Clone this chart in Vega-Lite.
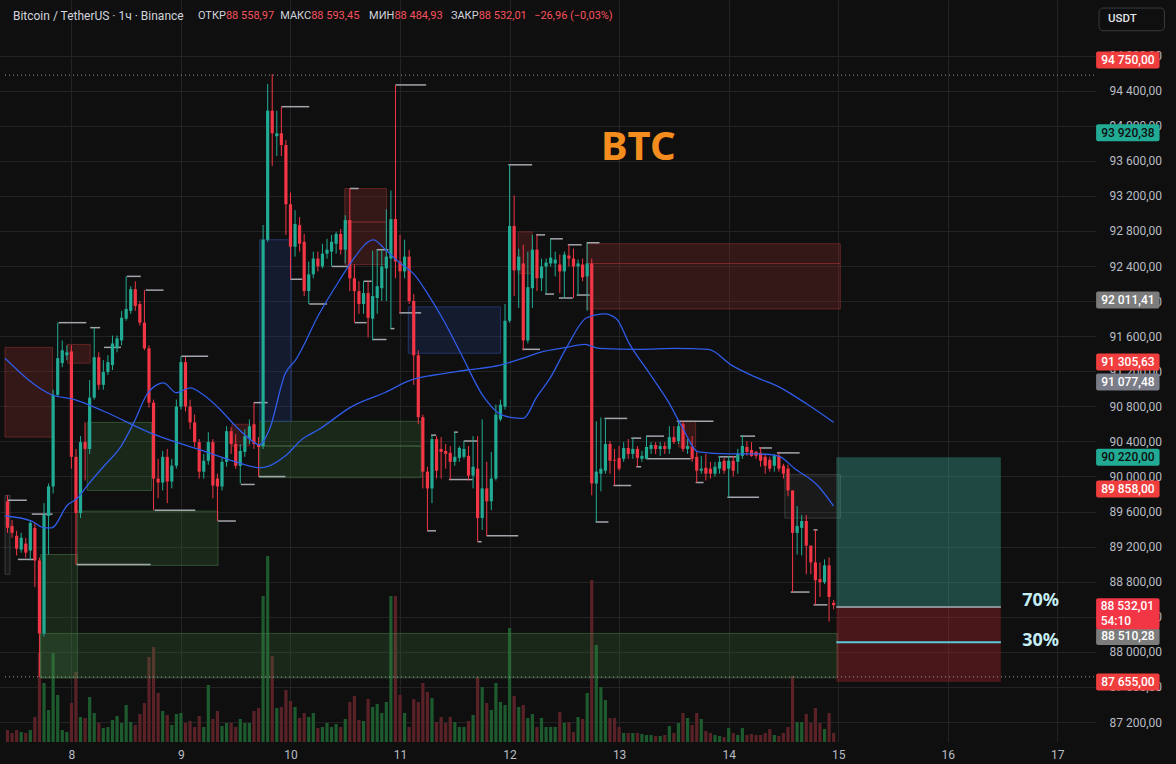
{
"$schema":"https://vega.github.io/schema/vega-lite/v6.json",
"width":1096,"height":742,
"autosize":"none",
"padding":{"left":0,"top":0,"right":80,"bottom":22},
"background":"#0f0f0f",
"config":{"view":{"stroke":null},"font":"Roboto","axis":{"domain":false,"ticks":false,"gridColor":"#232323","gridWidth":1,"labelColor":"#b8bcc4","labelFontSize":12,"labelFont":"Roboto","labelOverlap":false}},
"datasets":{
"candles":[
{"t":10,"o":89717,"hi":89785,"lo":89357,"c":89414,"v":120},
{"t":11,"o":89436,"hi":89504,"lo":89301,"c":89357,"v":90},
{"t":12,"o":89324,"hi":89380,"lo":89099,"c":89177,"v":120},
{"t":13,"o":89166,"hi":89357,"lo":89132,"c":89301,"v":100},
{"t":14,"o":89234,"hi":89301,"lo":89076,"c":89132,"v":90},
{"t":15,"o":89155,"hi":89504,"lo":89042,"c":89470,"v":120},
{"t":16,"o":89414,"hi":89470,"lo":88739,"c":89042,"v":250},
{"t":17,"o":89042,"hi":89076,"lo":87715,"c":88210,"v":890},
{"t":18,"o":88210,"hi":89695,"lo":88176,"c":89560,"v":590},
{"t":19,"o":89549,"hi":89920,"lo":89110,"c":89886,"v":320},
{"t":20,"o":89886,"hi":90989,"lo":89807,"c":90932,"v":890},
{"t":21,"o":90932,"hi":91754,"lo":90910,"c":91349,"v":470},
{"t":22,"o":91292,"hi":91551,"lo":91247,"c":91439,"v":120},
{"t":23,"o":91382,"hi":91495,"lo":91326,"c":91416,"v":100},
{"t":24,"o":91427,"hi":91495,"lo":90089,"c":90224,"v":390},
{"t":25,"o":90224,"hi":90314,"lo":88997,"c":89582,"v":700},
{"t":26,"o":89582,"hi":90460,"lo":89526,"c":90392,"v":250},
{"t":27,"o":90392,"hi":90617,"lo":89954,"c":90314,"v":240},
{"t":28,"o":90314,"hi":91101,"lo":90257,"c":90899,"v":450},
{"t":29,"o":90899,"hi":91697,"lo":90876,"c":91360,"v":290},
{"t":30,"o":91360,"hi":91416,"lo":90989,"c":91045,"v":190},
{"t":31,"o":91045,"hi":91326,"lo":90989,"c":91191,"v":140},
{"t":32,"o":91191,"hi":91382,"lo":91157,"c":91304,"v":150},
{"t":33,"o":91270,"hi":91607,"lo":91214,"c":91517,"v":220},
{"t":34,"o":91461,"hi":91607,"lo":91416,"c":91574,"v":260},
{"t":35,"o":91551,"hi":91889,"lo":91495,"c":91810,"v":190},
{"t":36,"o":91799,"hi":92282,"lo":91776,"c":91911,"v":370},
{"t":37,"o":91889,"hi":92170,"lo":91855,"c":92136,"v":200},
{"t":38,"o":92136,"hi":92226,"lo":91889,"c":91945,"v":170},
{"t":39,"o":91967,"hi":92001,"lo":91720,"c":91754,"v":280},
{"t":40,"o":91754,"hi":92125,"lo":91439,"c":91461,"v":390},
{"t":41,"o":91461,"hi":91495,"lo":90786,"c":90842,"v":850},
{"t":42,"o":90842,"hi":90876,"lo":89616,"c":89976,"v":950},
{"t":43,"o":89976,"hi":90201,"lo":89751,"c":89931,"v":490},
{"t":44,"o":89931,"hi":90291,"lo":89841,"c":90224,"v":310},
{"t":45,"o":90224,"hi":90314,"lo":89695,"c":89943,"v":270},
{"t":46,"o":89943,"hi":90201,"lo":89864,"c":90122,"v":170},
{"t":47,"o":90122,"hi":90876,"lo":90089,"c":90797,"v":280},
{"t":48,"o":90797,"hi":91371,"lo":90764,"c":91304,"v":290},
{"t":49,"o":91304,"hi":91360,"lo":90741,"c":90797,"v":190},
{"t":50,"o":90797,"hi":90876,"lo":90539,"c":90617,"v":210},
{"t":51,"o":90617,"hi":90707,"lo":90336,"c":90392,"v":150},
{"t":52,"o":90392,"hi":90426,"lo":89976,"c":90055,"v":260},
{"t":53,"o":90055,"hi":90257,"lo":89976,"c":90179,"v":150},
{"t":54,"o":90179,"hi":90505,"lo":90134,"c":90392,"v":570},
{"t":55,"o":90392,"hi":90426,"lo":89751,"c":89897,"v":230},
{"t":56,"o":89976,"hi":90032,"lo":89492,"c":89886,"v":310},
{"t":57,"o":89886,"hi":90224,"lo":89841,"c":90167,"v":160},
{"t":58,"o":90167,"hi":90573,"lo":90111,"c":90516,"v":190},
{"t":59,"o":90516,"hi":90561,"lo":90257,"c":90370,"v":190},
{"t":60,"o":90370,"hi":90482,"lo":90089,"c":90122,"v":150},
{"t":61,"o":90122,"hi":90370,"lo":89920,"c":90291,"v":230},
{"t":62,"o":90280,"hi":90539,"lo":90224,"c":90460,"v":190},
{"t":63,"o":90426,"hi":90651,"lo":90370,"c":90573,"v":190},
{"t":64,"o":90595,"hi":90842,"lo":90314,"c":90370,"v":310},
{"t":65,"o":90370,"hi":90449,"lo":89999,"c":90336,"v":340},
{"t":66,"o":90347,"hi":92867,"lo":90314,"c":92699,"v":1460},
{"t":67,"o":92699,"hi":94476,"lo":92676,"c":94172,"v":1860},
{"t":68,"o":94172,"hi":94589,"lo":93542,"c":93914,"v":860},
{"t":69,"o":93880,"hi":94172,"lo":93655,"c":93914,"v":340},
{"t":70,"o":93914,"hi":94217,"lo":93655,"c":93779,"v":350},
{"t":71,"o":93779,"hi":93835,"lo":92755,"c":93104,"v":520},
{"t":72,"o":93104,"hi":93239,"lo":92249,"c":92620,"v":410},
{"t":73,"o":92620,"hi":93036,"lo":92507,"c":92879,"v":350},
{"t":74,"o":92867,"hi":92957,"lo":92564,"c":92654,"v":240},
{"t":75,"o":92676,"hi":92766,"lo":92057,"c":92114,"v":290},
{"t":76,"o":92114,"hi":92451,"lo":91967,"c":92305,"v":250},
{"t":77,"o":92305,"hi":92564,"lo":92260,"c":92485,"v":290},
{"t":78,"o":92485,"hi":92564,"lo":92339,"c":92395,"v":140},
{"t":79,"o":92395,"hi":92654,"lo":92372,"c":92541,"v":150},
{"t":80,"o":92541,"hi":92710,"lo":92485,"c":92586,"v":190},
{"t":81,"o":92564,"hi":92755,"lo":92395,"c":92676,"v":150},
{"t":82,"o":92654,"hi":92789,"lo":92541,"c":92766,"v":180},
{"t":83,"o":92766,"hi":92822,"lo":92530,"c":92586,"v":150},
{"t":84,"o":92586,"hi":92980,"lo":92429,"c":92924,"v":230},
{"t":85,"o":92924,"hi":93284,"lo":92114,"c":92260,"v":400},
{"t":86,"o":92260,"hi":92417,"lo":91754,"c":92114,"v":460},
{"t":87,"o":92114,"hi":92226,"lo":91855,"c":91967,"v":220},
{"t":88,"o":91967,"hi":92226,"lo":91855,"c":92091,"v":210},
{"t":89,"o":92091,"hi":92226,"lo":91585,"c":91810,"v":430},
{"t":90,"o":91799,"hi":92575,"lo":91551,"c":92057,"v":350},
{"t":91,"o":92035,"hi":92586,"lo":91855,"c":92170,"v":380},
{"t":92,"o":92147,"hi":92586,"lo":92001,"c":92395,"v":290},
{"t":93,"o":92372,"hi":93047,"lo":92001,"c":92507,"v":400},
{"t":94,"o":92485,"hi":93261,"lo":91686,"c":92935,"v":1460},
{"t":95,"o":92935,"hi":94465,"lo":92260,"c":92451,"v":1460},
{"t":96,"o":92451,"hi":92755,"lo":91866,"c":92339,"v":470},
{"t":97,"o":92339,"hi":92699,"lo":92260,"c":92507,"v":290},
{"t":98,"o":92507,"hi":92586,"lo":91967,"c":92001,"v":150},
{"t":99,"o":92001,"hi":92080,"lo":91045,"c":91382,"v":430},
{"t":100,"o":91382,"hi":91439,"lo":90595,"c":90676,"v":400},
{"t":101,"o":90676,"hi":90707,"lo":89864,"c":90055,"v":590},
{"t":102,"o":90055,"hi":90111,"lo":89380,"c":89864,"v":500},
{"t":103,"o":89864,"hi":90471,"lo":89695,"c":90426,"v":440},
{"t":104,"o":90426,"hi":90460,"lo":89976,"c":90066,"v":200},
{"t":105,"o":90314,"hi":90449,"lo":89976,"c":90280,"v":250},
{"t":106,"o":90291,"hi":90370,"lo":90089,"c":90257,"v":190},
{"t":107,"o":90269,"hi":90347,"lo":89965,"c":90167,"v":250},
{"t":108,"o":90167,"hi":90505,"lo":90122,"c":90224,"v":200},
{"t":109,"o":90212,"hi":90347,"lo":90167,"c":90325,"v":150},
{"t":110,"o":90224,"hi":90404,"lo":90201,"c":90314,"v":150},
{"t":111,"o":90235,"hi":90347,"lo":89954,"c":90010,"v":210},
{"t":112,"o":90010,"hi":90460,"lo":89864,"c":90111,"v":270},
{"t":113,"o":90089,"hi":90460,"lo":89256,"c":89526,"v":650},
{"t":114,"o":89526,"hi":90651,"lo":89391,"c":89864,"v":550},
{"t":115,"o":89864,"hi":90167,"lo":89324,"c":89717,"v":390},
{"t":116,"o":89717,"hi":90280,"lo":89616,"c":89976,"v":320},
{"t":117,"o":89976,"hi":90820,"lo":89954,"c":90707,"v":590},
{"t":118,"o":90651,"hi":90876,"lo":90629,"c":90820,"v":400},
{"t":119,"o":90797,"hi":91967,"lo":90764,"c":91776,"v":370},
{"t":120,"o":91776,"hi":93554,"lo":91754,"c":92856,"v":1140},
{"t":121,"o":92856,"hi":93205,"lo":92057,"c":92350,"v":460},
{"t":122,"o":92350,"hi":92597,"lo":91922,"c":92507,"v":350},
{"t":123,"o":92429,"hi":92642,"lo":91439,"c":91551,"v":370},
{"t":124,"o":91551,"hi":92564,"lo":91517,"c":92159,"v":240},
{"t":125,"o":92147,"hi":92755,"lo":91922,"c":92586,"v":280},
{"t":126,"o":92586,"hi":92755,"lo":92114,"c":92260,"v":150},
{"t":127,"o":92260,"hi":92485,"lo":92114,"c":92395,"v":240},
{"t":128,"o":92395,"hi":92485,"lo":92080,"c":92440,"v":150},
{"t":129,"o":92429,"hi":92710,"lo":92395,"c":92496,"v":150},
{"t":130,"o":92429,"hi":92564,"lo":92282,"c":92474,"v":150},
{"t":131,"o":92417,"hi":92530,"lo":92091,"c":92339,"v":300},
{"t":132,"o":92339,"hi":92564,"lo":92035,"c":92530,"v":190},
{"t":133,"o":92519,"hi":92642,"lo":92395,"c":92485,"v":200},
{"t":134,"o":92485,"hi":92597,"lo":92035,"c":92395,"v":100},
{"t":135,"o":92395,"hi":92474,"lo":92069,"c":92429,"v":250},
{"t":136,"o":92417,"hi":92485,"lo":92226,"c":92271,"v":230},
{"t":137,"o":92282,"hi":92665,"lo":91889,"c":92429,"v":490},
{"t":138,"o":92429,"hi":92485,"lo":89785,"c":89920,"v":1620},
{"t":139,"o":89920,"hi":90629,"lo":89481,"c":90055,"v":970},
{"t":140,"o":90032,"hi":90674,"lo":89830,"c":90089,"v":550},
{"t":141,"o":90066,"hi":90662,"lo":90032,"c":90370,"v":420},
{"t":142,"o":90370,"hi":90404,"lo":90032,"c":90179,"v":240},
{"t":143,"o":90190,"hi":90314,"lo":89897,"c":90179,"v":240},
{"t":144,"o":90212,"hi":90347,"lo":90066,"c":90089,"v":150},
{"t":145,"o":90201,"hi":90392,"lo":90167,"c":90325,"v":90},
{"t":146,"o":90325,"hi":90426,"lo":90201,"c":90257,"v":90},
{"t":147,"o":90257,"hi":90437,"lo":90201,"c":90314,"v":90},
{"t":148,"o":90314,"hi":90347,"lo":90111,"c":90212,"v":90},
{"t":149,"o":90201,"hi":90291,"lo":90167,"c":90235,"v":80},
{"t":150,"o":90201,"hi":90460,"lo":90201,"c":90336,"v":70},
{"t":151,"o":90314,"hi":90392,"lo":90257,"c":90359,"v":70},
{"t":152,"o":90359,"hi":90392,"lo":90257,"c":90314,"v":60},
{"t":153,"o":90314,"hi":90392,"lo":90235,"c":90347,"v":60},
{"t":154,"o":90347,"hi":90392,"lo":90257,"c":90314,"v":70},
{"t":155,"o":90314,"hi":90573,"lo":90257,"c":90449,"v":160},
{"t":156,"o":90449,"hi":90573,"lo":90370,"c":90392,"v":90},
{"t":157,"o":90404,"hi":90629,"lo":90370,"c":90573,"v":190},
{"t":158,"o":90595,"hi":90629,"lo":90280,"c":90314,"v":290},
{"t":159,"o":90314,"hi":90426,"lo":90257,"c":90347,"v":240},
{"t":160,"o":90336,"hi":90460,"lo":90167,"c":90201,"v":170},
{"t":161,"o":90224,"hi":90280,"lo":89931,"c":90066,"v":290},
{"t":162,"o":90066,"hi":90235,"lo":90032,"c":90089,"v":230},
{"t":163,"o":90100,"hi":90257,"lo":89954,"c":90032,"v":110},
{"t":164,"o":90089,"hi":90167,"lo":89976,"c":90032,"v":90},
{"t":165,"o":90032,"hi":90167,"lo":89999,"c":90111,"v":70},
{"t":166,"o":90089,"hi":90235,"lo":90032,"c":90167,"v":60},
{"t":167,"o":90179,"hi":90212,"lo":90032,"c":90066,"v":50},
{"t":168,"o":90089,"hi":90235,"lo":89762,"c":90179,"v":140},
{"t":169,"o":90179,"hi":90235,"lo":89999,"c":90066,"v":90},
{"t":170,"o":90167,"hi":90314,"lo":90032,"c":90257,"v":70},
{"t":171,"o":90235,"hi":90471,"lo":90201,"c":90347,"v":140},
{"t":172,"o":90336,"hi":90404,"lo":90235,"c":90280,"v":70},
{"t":173,"o":90302,"hi":90392,"lo":90224,"c":90235,"v":80},
{"t":174,"o":90280,"hi":90291,"lo":90201,"c":90235,"v":70},
{"t":175,"o":90269,"hi":90336,"lo":90111,"c":90179,"v":70},
{"t":176,"o":90224,"hi":90257,"lo":90032,"c":90122,"v":90},
{"t":177,"o":90190,"hi":90224,"lo":90055,"c":90089,"v":130},
{"t":178,"o":90122,"hi":90257,"lo":90055,"c":90235,"v":70},
{"t":179,"o":90235,"hi":90269,"lo":90055,"c":90089,"v":60},
{"t":180,"o":90122,"hi":90145,"lo":89976,"c":90032,"v":90},
{"t":181,"o":90089,"hi":90134,"lo":89774,"c":89841,"v":150},
{"t":182,"o":89841,"hi":89841,"lo":88682,"c":89357,"v":660},
{"t":183,"o":89357,"hi":89661,"lo":89110,"c":89436,"v":200},
{"t":184,"o":89414,"hi":89560,"lo":89099,"c":89492,"v":200},
{"t":185,"o":89492,"hi":89560,"lo":88885,"c":89211,"v":280},
{"t":186,"o":89211,"hi":89211,"lo":88885,"c":89020,"v":190},
{"t":187,"o":89020,"hi":89391,"lo":88536,"c":88817,"v":340},
{"t":188,"o":88829,"hi":89020,"lo":88626,"c":88795,"v":190},
{"t":189,"o":88795,"hi":89054,"lo":88772,"c":88986,"v":130},
{"t":190,"o":88986,"hi":89076,"lo":88345,"c":88626,"v":290},
{"t":191,"o":88558.97,"hi":88593.45,"lo":88484.93,"c":88532.01,"v":90}
],
"fast":[{"t":9.46,"p":89549},{"t":15.3,"p":89492},{"t":18.1,"p":89414},{"t":19.7,"p":89414},{"t":23.1,"p":89672},{"t":25.3,"p":89751},{"t":27.5,"p":89897},{"t":31.2,"p":90122},{"t":34.9,"p":90347},{"t":37.7,"p":90617},{"t":40.5,"p":90932},{"t":42.7,"p":91045},{"t":44.2,"p":91067},{"t":47.0,"p":90955},{"t":50.0,"p":91011},{"t":52.9,"p":90932},{"t":56.6,"p":90764},{"t":60.0,"p":90573},{"t":63.1,"p":90426},{"t":65.2,"p":90359},{"t":67.4,"p":90539},{"t":70.9,"p":91180},{"t":73.1,"p":91326},{"t":78.3,"p":91855},{"t":82.6,"p":92226},{"t":85.4,"p":92451},{"t":90.2,"p":92699},{"t":92.6,"p":92597},{"t":95.6,"p":92451},{"t":99.1,"p":92305},{"t":102.1,"p":92080},{"t":105.6,"p":91776},{"t":109.3,"p":91405},{"t":114.3,"p":90910},{"t":117.4,"p":90730},{"t":120.2,"p":90674},{"t":123.0,"p":90662},{"t":126.0,"p":90910},{"t":128.9,"p":91124},{"t":132.5,"p":91472},{"t":136.9,"p":91810},{"t":140.8,"p":91855},{"t":143.4,"p":91799},{"t":146.2,"p":91517},{"t":150.6,"p":91180},{"t":154.9,"p":90842},{"t":157.7,"p":90573},{"t":161.4,"p":90280},{"t":167.9,"p":90257},{"t":174.4,"p":90257},{"t":178.8,"p":90235},{"t":182.5,"p":90089},{"t":187.5,"p":89897},{"t":191.0,"p":89661}],
"slow":[{"t":9.46,"p":91349},{"t":19.7,"p":90932},{"t":24.7,"p":90876},{"t":31.2,"p":90741},{"t":42.0,"p":90482},{"t":52.9,"p":90291},{"t":60.0,"p":90167},{"t":65.2,"p":90100},{"t":67.4,"p":90122},{"t":70.9,"p":90235},{"t":74.6,"p":90426},{"t":78.3,"p":90539},{"t":85.4,"p":90797},{"t":92.6,"p":90955},{"t":98.5,"p":91101},{"t":103.5,"p":91157},{"t":110.8,"p":91214},{"t":118.0,"p":91270},{"t":123.0,"p":91349},{"t":126.7,"p":91416},{"t":132.5,"p":91472},{"t":136.4,"p":91506},{"t":139.7,"p":91461},{"t":148.4,"p":91450},{"t":156.4,"p":91461},{"t":163.6,"p":91450},{"t":168.6,"p":91270},{"t":173.8,"p":91135},{"t":179.4,"p":91011},{"t":185.3,"p":90820},{"t":191.0,"p":90617}],
"zRed":[{"t1":9.455,"t2":19.88,"p1":91472,"p2":90449},{"t1":23.13,"t2":28.12,"p1":91506,"p2":91292},{"t1":83.91,"t2":93.03,"p1":93284,"p2":92901},{"t1":83.91,"t2":93.03,"p1":92901,"p2":92417},{"t1":121.9,"t2":124.94,"p1":92789,"p2":92316},{"t1":136.88,"t2":192.46,"p1":92654,"p2":92429},{"t1":136.88,"t2":192.46,"p1":92429,"p2":91911},{"t1":157.07,"t2":160.76,"p1":90629,"p2":90336},{"t1":59.17,"t2":63.07,"p1":90595,"p2":90347}],
"zGreen":[{"t1":25.3,"t2":56.13,"p1":89605,"p2":88986},{"t1":27.47,"t2":41.58,"p1":90617,"p2":89841},{"t1":17.27,"t2":25.3,"p1":89110,"p2":87704},{"t1":17.27,"t2":191.8,"p1":88210,"p2":87704},{"t1":65.25,"t2":100.63,"p1":90629,"p2":90347},{"t1":65.25,"t2":100.63,"p1":90347,"p2":89987}],
"zBlue":[{"t1":65.25,"t2":72.19,"p1":92699,"p2":90629},{"t1":97.81,"t2":118.0,"p1":91934,"p2":91405}],
"zGray":[{"t1":9.455,"t2":10.54,"p1":89785,"p2":88885},{"t1":180.3,"t2":192.46,"p1":90021,"p2":89526}],
"posGreen":[{"t1":191.59,"t2":227.63,"p1":90220,"p2":88510.28}],
"posRed":[{"t1":191.59,"t2":227.63,"p1":88510.28,"p2":87655}],
"cyanLine":[{"t1":191.59,"t2":227.63,"p":88109}],
"entryLine":[{"t1":191.59,"t2":227.63,"p":88510.28}],
"dots":[{"p":94577},{"p":87715}],
"pivots":[{"t1":21.18,"t2":27.26,"p":91754},{"t1":28.12,"t2":30.3,"p":91697},{"t1":31.16,"t2":34.85,"p":91472},{"t1":36.16,"t2":39.2,"p":92282},{"t1":40.28,"t2":44.19,"p":92125},{"t1":48.1,"t2":53.96,"p":91371},{"t1":25.1,"t2":41.37,"p":88997},{"t1":42.23,"t2":51.13,"p":89616},{"t1":56.13,"t2":60.03,"p":89492},{"t1":61.12,"t2":64.16,"p":89909},{"t1":63.94,"t2":66.98,"p":90842},{"t1":65.03,"t2":70.89,"p":89999},{"t1":9.89,"t2":14.23,"p":89729},{"t1":12.28,"t2":15.97,"p":89054},{"t1":15.32,"t2":19.88,"p":89571},{"t1":70.02,"t2":76.1,"p":94217},{"t1":71.97,"t2":74.58,"p":92249},{"t1":76.1,"t2":80.01,"p":91967},{"t1":81.09,"t2":84.78,"p":92395},{"t1":85.0,"t2":86.95,"p":93284},{"t1":86.09,"t2":88.69,"p":91754},{"t1":88.04,"t2":89.78,"p":92226},{"t1":89.99,"t2":93.03,"p":91562},{"t1":90.86,"t2":93.47,"p":92586},{"t1":93.9,"t2":94.77,"p":91686},{"t1":94.99,"t2":101.71,"p":94465},{"t1":95.85,"t2":100.63,"p":91866},{"t1":101.93,"t2":103.89,"p":89380},{"t1":102.8,"t2":103.89,"p":90471},{"t1":106.71,"t2":111.92,"p":89965},{"t1":107.79,"t2":108.66,"p":90505},{"t1":109.96,"t2":113.01,"p":90404},{"t1":113.01,"t2":113.87,"p":89256},{"t1":114.96,"t2":121.9,"p":89324},{"t1":119.73,"t2":124.94,"p":93554},{"t1":122.77,"t2":126.68,"p":91450},{"t1":125.81,"t2":127.77,"p":92755},{"t1":128.85,"t2":131.67,"p":92710},{"t1":127.77,"t2":129.72,"p":92080},{"t1":130.8,"t2":133.84,"p":92035},{"t1":132.76,"t2":135.8,"p":92642},{"t1":134.71,"t2":137.53,"p":92069},{"t1":136.88,"t2":139.7,"p":92665},{"t1":138.84,"t2":141.66,"p":89481},{"t1":140.79,"t2":145.78,"p":90662},{"t1":142.74,"t2":146.65,"p":89897},{"t1":146.65,"t2":148.82,"p":90437},{"t1":147.74,"t2":148.82,"p":90111},{"t1":149.91,"t2":153.82,"p":90460},{"t1":149.91,"t2":159.68,"p":90201},{"t1":156.64,"t2":164.67,"p":90629},{"t1":160.76,"t2":162.5,"p":89931},{"t1":165.76,"t2":169.66,"p":90224},{"t1":167.71,"t2":174.66,"p":89762},{"t1":170.53,"t2":173.79,"p":90460},{"t1":174.66,"t2":177.48,"p":90325},{"t1":178.57,"t2":183.55,"p":90269},{"t1":181.6,"t2":185.73,"p":88682},{"t1":186.6,"t2":187.46,"p":89391},{"t1":186.6,"t2":189.64,"p":88536}],
"tagsRed":[{"p":94750,"label":"94 750,00"},{"p":91305.63,"label":"91 305,63"},{"p":89858,"label":"89 858,00"},{"p":87655,"label":"87 655,00"}],
"tagsTeal":[{"p":93920.38,"label":"93 920,38"},{"p":90220,"label":"90 220,00"}],
"tagsGray":[{"p":92011.41,"label":"92 011,41"},{"p":88176,"label":"88 510,28"}],
"tagsSlate":[{"p":91077.48,"label":"91 077,48"}],
"tagLive":[{"p":88435}],
"tagLiveText":[{"p":88525,"label":"88 532,01"},{"p":88356,"label":"54:10"}],
"titleMain":[{"t":11.19,"label":"Bitcoin / TetherUS · 1ч · Binance"}],
"titleGray":[{"t":57.86,"label":"ОТКР"},{"t":76.53,"label":"МАКС"},{"t":94.77,"label":"МИН"},{"t":113.22,"label":"ЗАКР"}],
"titleRed":[{"t":57.86,"label":"88 558,97"},{"t":76.53,"label":"88 593,45"},{"t":94.77,"label":"88 484,93"},{"t":113.22,"label":"88 532,01"},{"t":125.38,"label":"−26,96 (−0,03%)"}],
"btc":[{"t":148.2,"p":93745,"label":"BTC"}],
"pct":[{"t":232.3,"p":88581,"label":"70%"},{"t":232.3,"p":88120,"label":"30%"}],
"usdt":[{"t1":249.13,"t2":263.46,"p1":95342,"p2":95083}],
"usdtText":[{"t":251.1,"p":95218,"label":"USDT"}]
},
"layer":[
{"data":{"name":"candles"},"mark":{"type":"bar","size":3.2},
 "encoding":{"x":{"field":"t","type":"quantitative","scale":{"domain":[9.455,247.38],"nice":false,"zero":false}},
 "y":{"field":"v","type":"quantitative","scale":{"domain":[0,7420],"nice":false},"axis":null},
 "color":{"condition":{"test":"datum.c >= datum.o","value":"#1d5a2e"},"value":"#5a2227"}}},
{"layer":[
{"data":{"name":"zRed"},"mark":{"type":"rect","fill":"#8c2a2a","fillOpacity":0.3,"stroke":"#8c3030","strokeOpacity":0.6,"strokeWidth":1},
 "encoding":{"x":{"field":"t1","type":"quantitative","scale":{"domain":[9.455,247.38],"nice":false,"zero":false},
   "axis":{"values":[24,48,72,96,120,144,168,192,216,240],"tickCount":40,"labelExpr":"format(datum.value/24 + 7, 'd')","labelPadding":7,"grid":true,"title":null,"orient":"bottom","labelFlush":false,"labelOverlap":false}},
 "x2":{"field":"t2"},
 "y":{"field":"p1","type":"quantitative","scale":{"domain":[87029,95376.5],"nice":false,"zero":false},
   "axis":{"values":[87200,87600,88000,88400,88800,89200,89600,90000,90400,90800,91200,91600,92000,92400,92800,93200,93600,94000,94400,94800],"tickCount":40,"orient":"right","labelExpr":"floor(datum.value/1000) + ' ' + format(datum.value % 1000, '03d') + ',00'","labelPadding":13,"labelAlign":"left","labelBaseline":"middle","grid":true,"title":null,"labelOverlap":false,"labelBound":false,"labelFlush":false}},
 "y2":{"field":"p2"}}},
{"data":{"name":"zGreen"},"mark":{"type":"rect","fill":"#468246","fillOpacity":0.22,"stroke":"#4a7a4a","strokeOpacity":0.55,"strokeWidth":1},
 "encoding":{"x":{"field":"t1","type":"quantitative","scale":{"domain":[9.455,247.38],"nice":false,"zero":false}},"x2":{"field":"t2"},
 "y":{"field":"p1","type":"quantitative","scale":{"domain":[87029,95376.5],"nice":false,"zero":false}},"y2":{"field":"p2"}}},
{"data":{"name":"zBlue"},"mark":{"type":"rect","fill":"#234191","fillOpacity":0.25,"stroke":"#2a4588","strokeOpacity":0.7,"strokeWidth":1},
 "encoding":{"x":{"field":"t1","type":"quantitative","scale":{"domain":[9.455,247.38],"nice":false,"zero":false}},"x2":{"field":"t2"},
 "y":{"field":"p1","type":"quantitative","scale":{"domain":[87029,95376.5],"nice":false,"zero":false}},"y2":{"field":"p2"}}},
{"data":{"name":"zGray"},"mark":{"type":"rect","fill":"#6a6a6a","fillOpacity":0.12,"stroke":"#555555","strokeOpacity":0.6,"strokeWidth":1},
 "encoding":{"x":{"field":"t1","type":"quantitative","scale":{"domain":[9.455,247.38],"nice":false,"zero":false}},"x2":{"field":"t2"},
 "y":{"field":"p1","type":"quantitative","scale":{"domain":[87029,95376.5],"nice":false,"zero":false}},"y2":{"field":"p2"}}},
{"data":{"name":"posGreen"},"mark":{"type":"rect","fill":"#3cb4a0","fillOpacity":0.35},
 "encoding":{"x":{"field":"t1","type":"quantitative","scale":{"domain":[9.455,247.38],"nice":false,"zero":false}},"x2":{"field":"t2"},
 "y":{"field":"p1","type":"quantitative","scale":{"domain":[87029,95376.5],"nice":false,"zero":false}},"y2":{"field":"p2"}}},
{"data":{"name":"posRed"},"mark":{"type":"rect","fill":"#b72832","fillOpacity":0.35},
 "encoding":{"x":{"field":"t1","type":"quantitative","scale":{"domain":[9.455,247.38],"nice":false,"zero":false}},"x2":{"field":"t2"},
 "y":{"field":"p1","type":"quantitative","scale":{"domain":[87029,95376.5],"nice":false,"zero":false}},"y2":{"field":"p2"}}},
{"data":{"name":"dots"},"mark":{"type":"rule","color":"#9a9a9a","strokeDash":[1,3],"strokeWidth":1},
 "encoding":{"x":{"datum":9.455,"type":"quantitative","scale":{"domain":[9.455,247.38],"nice":false,"zero":false}},"x2":{"datum":248.5},
 "y":{"field":"p","type":"quantitative","scale":{"domain":[87029,95376.5],"nice":false,"zero":false}}}},
{"data":{"name":"pivots"},"mark":{"type":"rule","color":"#a3a6ad","strokeWidth":1.5},
 "encoding":{"x":{"field":"t1","type":"quantitative","scale":{"domain":[9.455,247.38],"nice":false,"zero":false}},"x2":{"field":"t2"},
 "y":{"field":"p","type":"quantitative","scale":{"domain":[87029,95376.5],"nice":false,"zero":false}}}},
{"data":{"name":"candles"},"mark":{"type":"rule","strokeWidth":1},
 "encoding":{"x":{"field":"t","type":"quantitative","scale":{"domain":[9.455,247.38],"nice":false,"zero":false}},
 "y":{"field":"lo","type":"quantitative","scale":{"domain":[87029,95376.5],"nice":false,"zero":false}},
 "y2":{"field":"hi"},
 "color":{"condition":{"test":"datum.c >= datum.o","value":"#22ab94"},"value":"#f23645"}}},
{"data":{"name":"candles"},"mark":{"type":"bar","size":3.2},
 "encoding":{"x":{"field":"t","type":"quantitative","scale":{"domain":[9.455,247.38],"nice":false,"zero":false}},
 "y":{"field":"o","type":"quantitative","scale":{"domain":[87029,95376.5],"nice":false,"zero":false}},
 "y2":{"field":"c"},
 "color":{"condition":{"test":"datum.c >= datum.o","value":"#22ab94"},"value":"#f23645"}}},
{"data":{"name":"slow"},"mark":{"type":"line","color":"#2f5ce8","strokeWidth":1.3,"interpolate":"monotone"},
 "encoding":{"x":{"field":"t","type":"quantitative","scale":{"domain":[9.455,247.38],"nice":false,"zero":false}},
 "y":{"field":"p","type":"quantitative","scale":{"domain":[87029,95376.5],"nice":false,"zero":false}}}},
{"data":{"name":"fast"},"mark":{"type":"line","color":"#2f5ce8","strokeWidth":1.3,"interpolate":"monotone"},
 "encoding":{"x":{"field":"t","type":"quantitative","scale":{"domain":[9.455,247.38],"nice":false,"zero":false}},
 "y":{"field":"p","type":"quantitative","scale":{"domain":[87029,95376.5],"nice":false,"zero":false}}}},
{"data":{"name":"entryLine"},"mark":{"type":"rule","color":"#8a8f98","strokeWidth":2},
 "encoding":{"x":{"field":"t1","type":"quantitative","scale":{"domain":[9.455,247.38],"nice":false,"zero":false}},"x2":{"field":"t2"},
 "y":{"field":"p","type":"quantitative","scale":{"domain":[87029,95376.5],"nice":false,"zero":false}}}},
{"data":{"name":"cyanLine"},"mark":{"type":"rule","color":"#5cc8dc","strokeWidth":2},
 "encoding":{"x":{"field":"t1","type":"quantitative","scale":{"domain":[9.455,247.38],"nice":false,"zero":false}},"x2":{"field":"t2"},
 "y":{"field":"p","type":"quantitative","scale":{"domain":[87029,95376.5],"nice":false,"zero":false}}}},
{"data":{"name":"btc"},"mark":{"type":"text","color":"#f48c1e","fontSize":40,"fontWeight":"bold","font":"Noto Sans","align":"center","baseline":"middle"},
 "encoding":{"x":{"field":"t","type":"quantitative","scale":{"domain":[9.455,247.38],"nice":false,"zero":false}},
 "y":{"field":"p","type":"quantitative","scale":{"domain":[87029,95376.5],"nice":false,"zero":false}},"text":{"field":"label"}}},
{"data":{"name":"pct"},"mark":{"type":"text","color":"#c5eef5","fontSize":18,"fontWeight":"bold","font":"Noto Sans","align":"left","baseline":"middle"},
 "encoding":{"x":{"field":"t","type":"quantitative","scale":{"domain":[9.455,247.38],"nice":false,"zero":false}},
 "y":{"field":"p","type":"quantitative","scale":{"domain":[87029,95376.5],"nice":false,"zero":false}},"text":{"field":"label"}}},
{"data":{"name":"titleMain"},"mark":{"type":"text","color":"#d1d4dc","fontSize":12,"align":"left","baseline":"middle"},
 "encoding":{"x":{"field":"t","type":"quantitative","scale":{"domain":[9.455,247.38],"nice":false,"zero":false}},
 "y":{"datum":95252,"type":"quantitative","scale":{"domain":[87029,95376.5],"nice":false,"zero":false}},"text":{"field":"label"}}},
{"data":{"name":"titleGray"},"mark":{"type":"text","color":"#d1d4dc","fontSize":11,"align":"right","baseline":"middle"},
 "encoding":{"x":{"field":"t","type":"quantitative","scale":{"domain":[9.455,247.38],"nice":false,"zero":false}},
 "y":{"datum":95252,"type":"quantitative","scale":{"domain":[87029,95376.5],"nice":false,"zero":false}},"text":{"field":"label"}}},
{"data":{"name":"titleRed"},"mark":{"type":"text","color":"#f7525f","fontSize":11,"align":"left","baseline":"middle"},
 "encoding":{"x":{"field":"t","type":"quantitative","scale":{"domain":[9.455,247.38],"nice":false,"zero":false}},
 "y":{"datum":95252,"type":"quantitative","scale":{"domain":[87029,95376.5],"nice":false,"zero":false}},"text":{"field":"label"}}},
{"data":{"name":"tagsRed"},"mark":{"type":"bar","size":17,"color":"#f03e3e","cornerRadius":2},
 "encoding":{"x":{"datum":248.5,"type":"quantitative","scale":{"domain":[9.455,247.38],"nice":false,"zero":false}},"x2":{"datum":262.4},
 "y":{"field":"p","type":"quantitative","scale":{"domain":[87029,95376.5],"nice":false,"zero":false}}}},
{"data":{"name":"tagsTeal"},"mark":{"type":"bar","size":17,"color":"#22ab94","cornerRadius":2},
 "encoding":{"x":{"datum":248.5,"type":"quantitative","scale":{"domain":[9.455,247.38],"nice":false,"zero":false}},"x2":{"datum":262.4},
 "y":{"field":"p","type":"quantitative","scale":{"domain":[87029,95376.5],"nice":false,"zero":false}}}},
{"data":{"name":"tagsGray"},"mark":{"type":"bar","size":17,"color":"#7c7c7c","cornerRadius":2},
 "encoding":{"x":{"datum":248.5,"type":"quantitative","scale":{"domain":[9.455,247.38],"nice":false,"zero":false}},"x2":{"datum":262.4},
 "y":{"field":"p","type":"quantitative","scale":{"domain":[87029,95376.5],"nice":false,"zero":false}}}},
{"data":{"name":"tagsSlate"},"mark":{"type":"bar","size":17,"color":"#7a7d88","cornerRadius":2},
 "encoding":{"x":{"datum":248.5,"type":"quantitative","scale":{"domain":[9.455,247.38],"nice":false,"zero":false}},"x2":{"datum":262.4},
 "y":{"field":"p","type":"quantitative","scale":{"domain":[87029,95376.5],"nice":false,"zero":false}}}},
{"data":{"name":"tagLive"},"mark":{"type":"bar","size":31,"color":"#f23645","cornerRadius":2},
 "encoding":{"x":{"datum":248.5,"type":"quantitative","scale":{"domain":[9.455,247.38],"nice":false,"zero":false}},"x2":{"datum":262.4},
 "y":{"field":"p","type":"quantitative","scale":{"domain":[87029,95376.5],"nice":false,"zero":false}}}},
{"data":{"name":"tagsRed"},"mark":{"type":"text","color":"#ffffff","fontSize":12,"fontWeight":500,"align":"center","baseline":"middle"},
 "encoding":{"x":{"datum":255.45,"type":"quantitative","scale":{"domain":[9.455,247.38],"nice":false,"zero":false}},
 "y":{"field":"p","type":"quantitative","scale":{"domain":[87029,95376.5],"nice":false,"zero":false}},"text":{"field":"label"}}},
{"data":{"name":"tagsGray"},"mark":{"type":"text","color":"#ffffff","fontSize":12,"fontWeight":500,"align":"center","baseline":"middle"},
 "encoding":{"x":{"datum":255.45,"type":"quantitative","scale":{"domain":[9.455,247.38],"nice":false,"zero":false}},
 "y":{"field":"p","type":"quantitative","scale":{"domain":[87029,95376.5],"nice":false,"zero":false}},"text":{"field":"label"}}},
{"data":{"name":"tagsSlate"},"mark":{"type":"text","color":"#ffffff","fontSize":12,"fontWeight":500,"align":"center","baseline":"middle"},
 "encoding":{"x":{"datum":255.45,"type":"quantitative","scale":{"domain":[9.455,247.38],"nice":false,"zero":false}},
 "y":{"field":"p","type":"quantitative","scale":{"domain":[87029,95376.5],"nice":false,"zero":false}},"text":{"field":"label"}}},
{"data":{"name":"tagsTeal"},"mark":{"type":"text","color":"#0f0f0f","fontSize":12,"fontWeight":500,"align":"center","baseline":"middle"},
 "encoding":{"x":{"datum":255.45,"type":"quantitative","scale":{"domain":[9.455,247.38],"nice":false,"zero":false}},
 "y":{"field":"p","type":"quantitative","scale":{"domain":[87029,95376.5],"nice":false,"zero":false}},"text":{"field":"label"}}},
{"data":{"name":"tagLiveText"},"mark":{"type":"text","color":"#ffffff","fontSize":12,"fontWeight":500,"align":"left","baseline":"middle"},
 "encoding":{"x":{"datum":249.5,"type":"quantitative","scale":{"domain":[9.455,247.38],"nice":false,"zero":false}},
 "y":{"field":"p","type":"quantitative","scale":{"domain":[87029,95376.5],"nice":false,"zero":false}},"text":{"field":"label"}}},
{"data":{"name":"usdt"},"mark":{"type":"rect","fill":"#0f0f0f","stroke":"#3a3d45","strokeWidth":1,"cornerRadius":4},
 "encoding":{"x":{"field":"t1","type":"quantitative","scale":{"domain":[9.455,247.38],"nice":false,"zero":false}},"x2":{"field":"t2"},
 "y":{"field":"p1","type":"quantitative","scale":{"domain":[87029,95376.5],"nice":false,"zero":false}},"y2":{"field":"p2"}}},
{"data":{"name":"usdtText"},"mark":{"type":"text","color":"#e0e3eb","fontSize":11.5,"fontWeight":500,"align":"left","baseline":"middle"},
 "encoding":{"x":{"field":"t","type":"quantitative","scale":{"domain":[9.455,247.38],"nice":false,"zero":false}},
 "y":{"field":"p","type":"quantitative","scale":{"domain":[87029,95376.5],"nice":false,"zero":false}},"text":{"field":"label"}}}
]}
],
"resolve":{"scale":{"y":"independent"}}
}
